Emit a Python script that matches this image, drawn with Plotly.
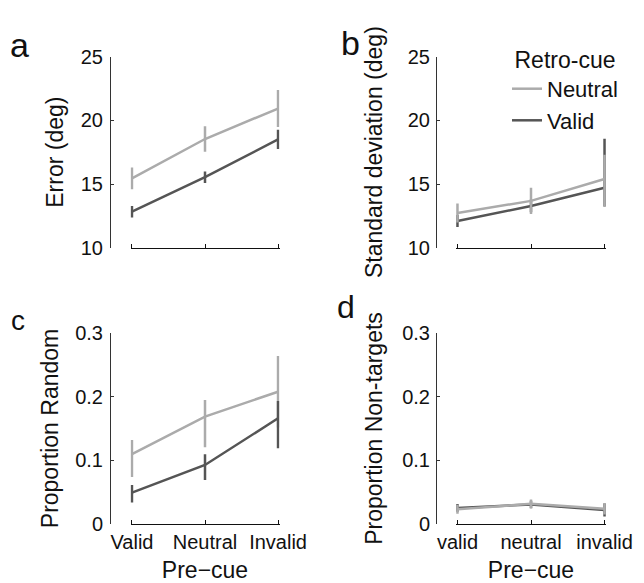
import plotly.graph_objects as go

W, H = 644, 583

# ---------------- data ----------------
x_pos = [1, 2, 3]
ticks_c = ["Valid", "Neutral", "Invalid"]
ticks_d = ["valid", "neutral", "invalid"]

# panel a: Error (deg)
a_neutral = [15.45, 18.53, 20.92]
a_neutral_plus = [0.85, 1.0, 1.45]
a_neutral_minus = [0.85, 1.0, 1.45]
a_valid = [12.83, 15.54, 18.5]
a_valid_plus = [0.45, 0.45, 0.75]
a_valid_minus = [0.45, 0.45, 0.75]

# panel b: Standard deviation (deg)
b_neutral = [12.73, 13.68, 15.39]
b_neutral_plus = [0.74, 1.03, 1.9]
b_neutral_minus = [0.74, 1.03, 2.2]
b_valid = [12.1, 13.28, 14.71]
b_valid_plus = [0.47, 0.5, 3.84]
b_valid_minus = [0.47, 0.5, 1.45]

# panel c: Proportion Random
c_neutral = [0.110, 0.1685, 0.2076]
c_neutral_plus = [0.022, 0.026, 0.056]
c_neutral_minus = [0.036, 0.048, 0.056]
c_valid = [0.0496, 0.0929, 0.166]
c_valid_plus = [0.012, 0.0167, 0.027]
c_valid_minus = [0.0156, 0.0235, 0.047]

# panel d: Proportion Non-targets
d_neutral = [0.0235, 0.032, 0.0245]
d_neutral_plus = [0.007, 0.007, 0.009]
d_neutral_minus = [0.007, 0.007, 0.009]
d_valid = [0.0256, 0.031, 0.0224]
d_valid_plus = [0.006, 0.006, 0.01]
d_valid_minus = [0.006, 0.006, 0.01]

LIGHT = "#ababab"
DARK = "#555555"
FONT = "Liberation Sans, Arial, sans-serif"

fig = go.Figure()


def add(y, plus, minus, color, name, xa, ya, showlegend, rank):
    fig.add_trace(go.Scatter(
        x=x_pos, y=y, mode="lines", name=name,
        line=dict(color=color, width=2.5),
        error_y=dict(type="data", array=plus, arrayminus=minus,
                     color=color, thickness=2.5, width=0, visible=True),
        xaxis=xa, yaxis=ya, showlegend=showlegend, legendrank=rank,
        cliponaxis=False, hoverinfo="skip"))


# panel a
add(a_neutral, a_neutral_plus, a_neutral_minus, LIGHT, "Neutral", "x", "y", False, 1)
add(a_valid, a_valid_plus, a_valid_minus, DARK, "Valid", "x", "y", False, 2)
# panel b (neutral on top)
add(b_valid, b_valid_plus, b_valid_minus, DARK, "Valid", "x2", "y2", True, 2)
add(b_neutral, b_neutral_plus, b_neutral_minus, LIGHT, "Neutral", "x2", "y2", True, 1)
# panel c (valid on top)
add(c_neutral, c_neutral_plus, c_neutral_minus, LIGHT, "Neutral", "x3", "y3", False, 1)
add(c_valid, c_valid_plus, c_valid_minus, DARK, "Valid", "x3", "y3", False, 2)
# panel d
add(d_valid, d_valid_plus, d_valid_minus, DARK, "Valid", "x4", "y4", False, 2)
add(d_neutral, d_neutral_plus, d_neutral_minus, LIGHT, "Neutral", "x4", "y4", False, 1)

xdom_left = [130.5 / W, 279.5 / W]
xdom_right = [456.0 / W, 606.0 / W]
ydom_top = [1 - 247.8 / H, 1 - 56.5 / H]
ydom_bot = [1 - 524.3 / H, 1 - 332.7 / H]
ypos_left = 110.0 / W
ypos_right = 436.0 / W

tickfont = dict(family=FONT, size=20, color="#111111")
titlefont = dict(family=FONT, size=23, color="#111111")


def xaxis(domain, anchor, ticktext, title):
    d = dict(domain=domain, anchor=anchor, range=[0.98, 3.02], automargin=False,
             tickmode="array", tickvals=x_pos, ticktext=ticktext,
             showticklabels=ticktext is not None,
             showline=True, linecolor="#111111", linewidth=1,
             ticks="inside", ticklen=4, tickcolor="#111111",
             showgrid=False, zeroline=False, tickfont=tickfont)
    if title:
        d["title"] = dict(text=title, font=titlefont, standoff=10)
    return d


def yaxis(domain, pos, rng, tickvals, ticktext, title, lab_off, title_off):
    return dict(domain=domain, anchor="free", position=pos, range=rng, automargin=False,
                tickmode="array", tickvals=tickvals, ticktext=ticktext,
                showline=True, linecolor="#333333", linewidth=1,
                ticks="inside", ticklen=3, tickcolor="#333333",
                ticklabelstandoff=lab_off,
                showgrid=False, zeroline=False, tickfont=tickfont,
                title=dict(text=title, font=titlefont, standoff=title_off))


deg_ticks = [10, 15, 20, 25]
deg_text = ["10", "15", "20", "25"]
prop_ticks = [0, 0.1, 0.2, 0.3]
prop_text = ["0", "0.1", "0.2", "0.3"]

fig.update_layout(
    width=W, height=H,
    margin=dict(l=0, r=0, t=0, b=0, autoexpand=False),
    paper_bgcolor="white", plot_bgcolor="white",
    font=dict(family=FONT, color="#111111"),
    xaxis=xaxis(xdom_left, "y", None, None),
    yaxis=yaxis(ydom_top, ypos_left, [10, 25], deg_ticks, deg_text, "Error (deg)", 3, 9),
    xaxis2=xaxis(xdom_right, "y2", None, None),
    yaxis2=yaxis(ydom_top, ypos_right, [10, 25], deg_ticks, deg_text,
                 "Standard deviation (deg)", 2, 17),
    xaxis3=xaxis(xdom_left, "y3", ticks_c, "Pre\u2212cue"),
    yaxis3=yaxis(ydom_bot, ypos_left, [0, 0.3], prop_ticks, prop_text,
                 "Proportion Random", 3, 9),
    xaxis4=xaxis(xdom_right, "y4", ticks_d, "Pre\u2212cue"),
    yaxis4=yaxis(ydom_bot, ypos_right, [0, 0.3], prop_ticks, prop_text,
                 "Proportion Non-targets", 2, 12),
    legend=dict(x=507 / W, y=1 - 38 / H, xanchor="left", yanchor="top",
                bgcolor="rgba(0,0,0,0)", borderwidth=0,
                font=dict(family=FONT, size=22, color="#111111"),
                title=dict(text="Retro-cue", side="top center",
                           font=dict(family=FONT, size=23, color="#111111")),
                itemwidth=30, tracegroupgap=0),
    showlegend=True,
)

letters = [("a", 19.5, 45, 34), ("b", 350, 43, 34), ("c", 18, 320, 28), ("d", 346, 307, 32)]
for t, lx, ly, sz in letters:
    fig.add_annotation(text=t, x=lx / W, y=1 - ly / H, xref="paper", yref="paper",
                       showarrow=False, xanchor="center", yanchor="middle",
                       font=dict(family=FONT, size=sz, color="#111111"))

fig.write_html("out.html", config={"displayModeBar": False},
               post_script="document.body.style.margin='0';document.body.style.overflow='hidden';")
